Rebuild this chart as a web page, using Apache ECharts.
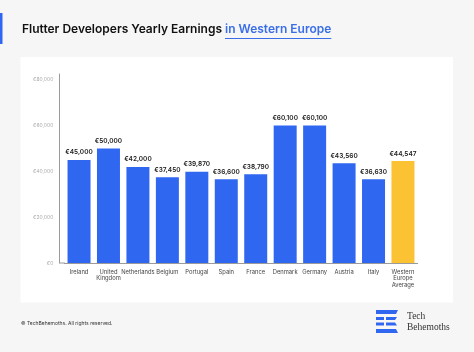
<!DOCTYPE html>
<html>
<head>
<meta charset="utf-8">
<script src="https://cdn.jsdelivr.net/npm/echarts@6/dist/echarts.min.js"></script>
<style>
  html, body { margin: 0; padding: 0; background: #f6f6f6; }
  #chart { width: 474px; height: 352px; }
</style>
</head>
<body>
<div id="chart"></div>
<script>
var countries = ['Ireland', 'United\nKingdom', 'Netherlands', 'Belgium', 'Portugal', 'Spain',
  'France', 'Denmark', 'Germany', 'Austria', 'Italy', 'Western\nEurope\nAverage'];
var earnings = [45000, 50000, 42000, 37450, 39870, 36600, 38790, 60100, 60100, 43560, 36630, 44547];
var yTicks = [0, 20000, 40000, 60000, 80000];

var blue = '#3067f1';
var yellow = '#fbc334';
var font = 'Inter, "Noto Sans", sans-serif';

function euro(v) {
  return '€' + String(v).replace(/\B(?=(\d{3})+(?!\d))/g, ',');
}

// measure title part for the underline
var ctx = document.createElement('canvas').getContext('2d');
ctx.font = '600 12px ' + font;
var titleA = 'Flutter Developers Yearly Earnings ';
var titleB = 'in Western Europe';
var wA = ctx.measureText(titleA).width;
var wB = ctx.measureText(titleB).width;

var chart = echarts.init(document.getElementById('chart'));
chart.setOption({
  animation: false,
  backgroundColor: '#f6f6f6',
  textStyle: { fontFamily: font },
  grid: { left: 64.3, right: 474 - 417.7, top: 74, bottom: 89 },
  xAxis: {
    type: 'category',
    data: countries,
    axisLine: { lineStyle: { color: '#9a9a9a', width: 1 } },
    axisTick: { show: false },
    axisLabel: { color: '#444', fontSize: 5.8, lineHeight: 6.5, margin: 6, interval: 0 }
  },
  yAxis: {
    type: 'value',
    min: 0, max: 82600, interval: 20000,
    offset: 5,
    splitLine: { show: false },
    axisLine: { show: true, lineStyle: { color: '#9a9a9a', width: 1 } },
    axisTick: { show: false },
    axisLabel: {
      color: '#aaa', fontSize: 5, margin: 6,
      formatter: function(v) { return yTicks.indexOf(v) >= 0 ? euro(v) : ''; }
    }
  },
  series: [{
    type: 'bar',
    barWidth: 23,
    data: earnings.map(function(v, i) {
      return { value: v, itemStyle: { color: i === earnings.length - 1 ? yellow : blue } };
    }),
    label: {
      show: true, position: 'top', distance: 4,
      color: '#222', fontSize: 6.5, fontWeight: 600,
      formatter: function(p) { return euro(p.value); }
    }
  }],
  graphic: [
    { id: 'panel', type: 'rect', z: -10, shape: { x: 20.5, y: 57, width: 432.5, height: 245.5 }, style: { fill: '#ffffff' } },
    { id: 'accent', type: 'rect', shape: { x: 0, y: 13, width: 2.5, height: 31 }, style: { fill: blue } },
    {
      id: 'title', type: 'text', x: 22, y: 29,
      style: {
        text: '{a|' + titleA + '}{b|' + titleB + '}',
        verticalAlign: 'middle',
        rich: {
          a: { fontSize: 12, fontWeight: 600, fill: '#111', fontFamily: font },
          b: { fontSize: 12, fontWeight: 600, fill: '#3a6ee8', fontFamily: font }
        }
      }
    },
    { id: 'underline', type: 'rect', shape: { x: 22 + wA, y: 38, width: wB, height: 1 }, style: { fill: '#3a6ee8' } },
    {
      id: 'footer', type: 'text', x: 21, y: 323,
      style: { text: '© TechBehemoths. All rights reserved.', fontSize: 5, fill: '#333', verticalAlign: 'middle', fontFamily: font }
    },
    // logo
    { id: 'l1', type: 'polygon', shape: { points: [[376, 310], [398, 310], [396, 314], [376, 314]] }, style: { fill: blue } },
    { id: 'l2', type: 'rect', shape: { x: 376, y: 317, width: 8, height: 3 }, style: { fill: blue } },
    { id: 'l3', type: 'polygon', shape: { points: [[386, 317], [397, 317], [395, 320], [386, 320]] }, style: { fill: blue } },
    { id: 'l4', type: 'rect', shape: { x: 376, y: 322.5, width: 8, height: 3 }, style: { fill: blue } },
    { id: 'l5', type: 'polygon', shape: { points: [[386, 322.5], [395, 322.5], [397, 325.5], [386, 325.5]] }, style: { fill: blue } },
    { id: 'l6', type: 'polygon', shape: { points: [[376, 329], [396, 329], [398, 333], [376, 333]] }, style: { fill: blue } },
    {
      id: 't1', type: 'text', x: 407, y: 316,
      style: { text: 'Tech', fontSize: 9.5, fill: '#333', verticalAlign: 'middle', fontFamily: '"Liberation Serif", "DejaVu Serif", serif' }
    },
    {
      id: 't2', type: 'text', x: 407, y: 327,
      style: { text: 'Behemoths', fontSize: 9.5, fill: '#333', verticalAlign: 'middle', fontFamily: '"Liberation Serif", "DejaVu Serif", serif' }
    }
  ]
});

// extend the x axis line back to the y axis line
var y0 = chart.convertToPixel({ yAxisIndex: 0 }, 0);
chart.setOption({
  graphic: [{ id: 'axisjoin', type: 'rect', shape: { x: 59.3, y: Math.round(y0) - 0.5, width: 5.5, height: 1 }, style: { fill: '#9a9a9a' } }]
});
window.addEventListener('resize', function() { chart.resize(); });
</script>
</body>
</html>
